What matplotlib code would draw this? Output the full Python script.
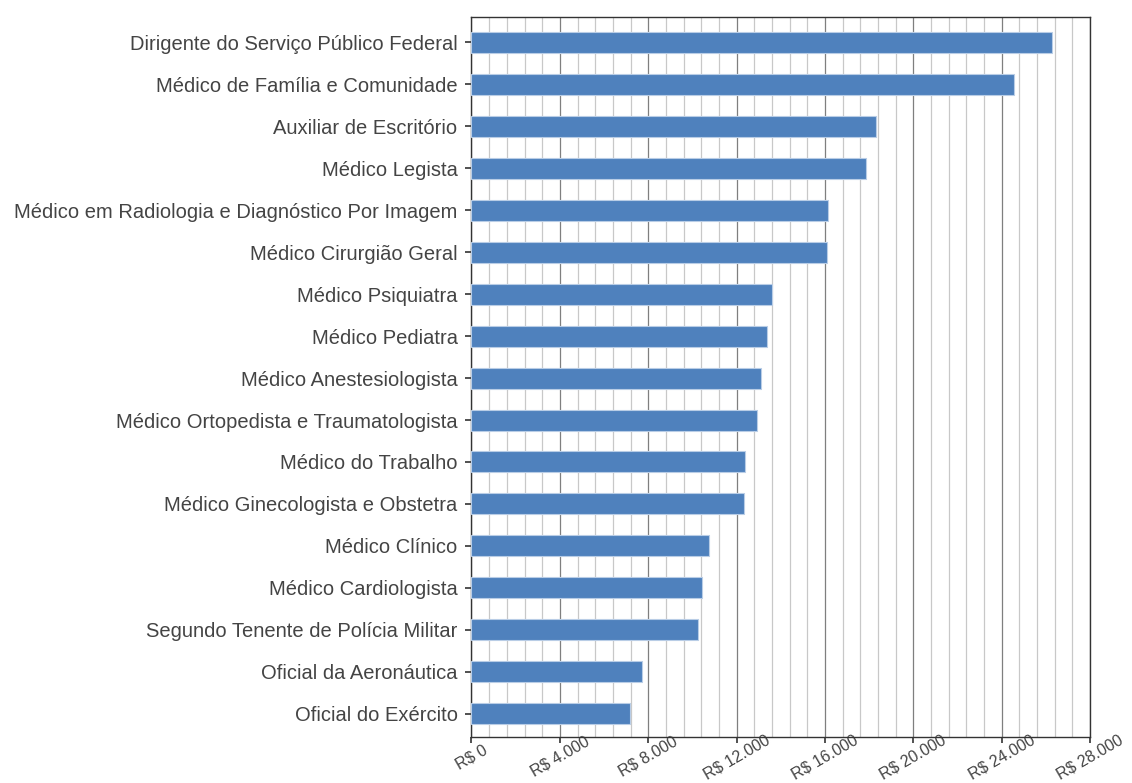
import matplotlib
matplotlib.use('Agg')
from matplotlib import pyplot as plt
from matplotlib.ticker import MultipleLocator, FuncFormatter
import numpy as np

plt.rcParams['font.family'] = ['Liberation Sans', 'DejaVu Sans']

# categories from top to bottom
cargos = ['Dirigente do Serviço Público Federal',
          'Médico de Família e Comunidade',
          'Auxiliar de Escritório',
          'Médico Legista',
          'Médico em Radiologia e Diagnóstico Por Imagem',
          'Médico Cirurgião Geral',
          'Médico Psiquiatra',
          'Médico Pediatra',
          'Médico Anestesiologista',
          'Médico Ortopedista e Traumatologista',
          'Médico do Trabalho',
          'Médico Ginecologista e Obstetra',
          'Médico Clínico',
          'Médico Cardiologista',
          'Segundo Tenente de Polícia Militar',
          'Oficial da Aeronáutica',
          'Oficial do Exército']
salarios = [26270, 24560, 18300, 17850, 16120, 16090, 13610, 13390, 13110,
            12930, 12390, 12340, 10750, 10430, 10250, 7740, 7190]

fig = plt.figure(figsize=(11.32, 7.83), dpi=100)
ax = fig.add_axes([0.4165, 0.059, 0.5465, 0.919])

ypos = np.arange(len(cargos))[::-1]
ax.barh(ypos, salarios, height=0.5, color='#4F81BD', edgecolor='#b9cde6',
        linewidth=0.8, zorder=3)

ax.set_xlim(0, 28000)
ax.set_ylim(-0.55, len(cargos) - 0.4)
ax.xaxis.set_major_locator(MultipleLocator(4000))
ax.xaxis.set_minor_locator(MultipleLocator(800))
ax.grid(which='major', axis='x', color='#7f7f7f', linewidth=0.9, zorder=0)
ax.grid(which='minor', axis='x', color='#c8c8c8', linewidth=0.9, zorder=0)
ax.tick_params(axis='x', which='minor', length=0)

fmt = lambda v, p: 'R$ ' + format(int(v), ',').replace(',', '.')
ax.xaxis.set_major_formatter(FuncFormatter(fmt))

ax.set_yticks(ypos)
ax.set_yticklabels(cargos)
ax.tick_params(axis='y', length=4, width=1.2, color='#333333', labelsize=14.5,
               labelcolor='#444444', pad=6)
ax.tick_params(axis='x', length=4, width=1.2, color='#333333', labelsize=11.5,
               labelcolor='#444444', pad=10.5)
for lab in ax.get_xticklabels():
    lab.set_rotation(30)
    lab.set_ha('center')
    lab.set_va('center')

for s in ax.spines.values():
    s.set_color('#333333')
    s.set_linewidth(1.0)

plt.savefig('out.png', dpi=100)
